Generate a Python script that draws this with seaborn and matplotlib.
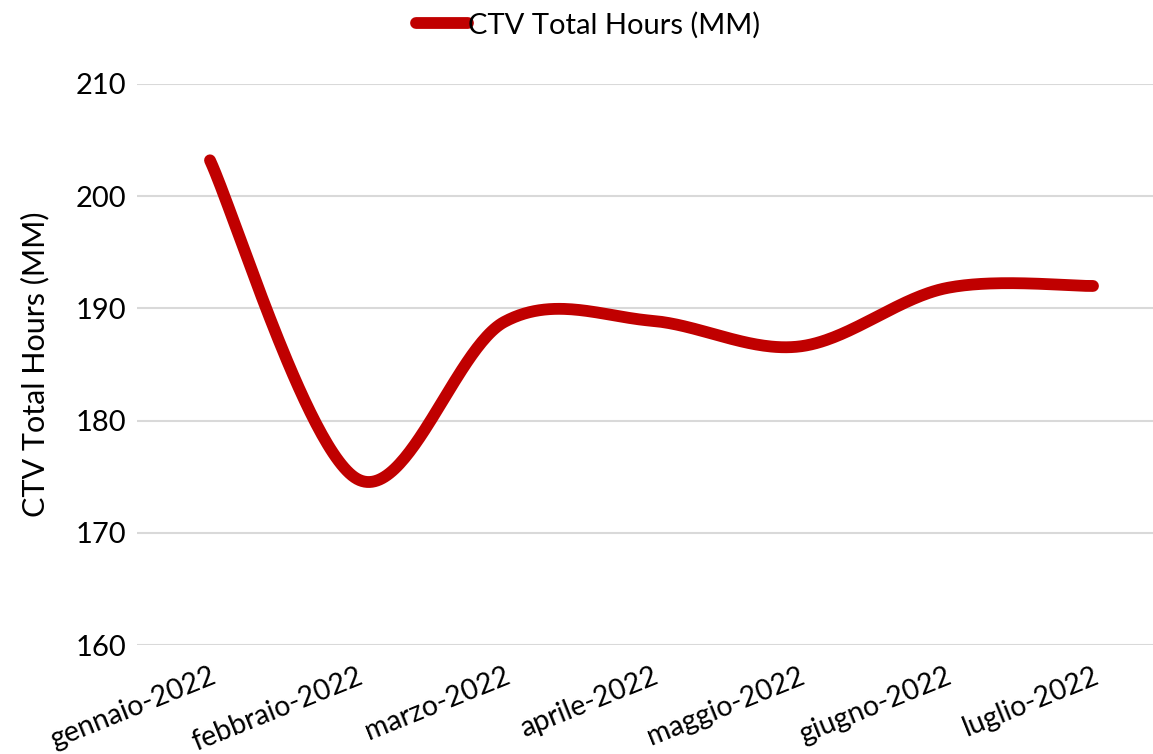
import numpy as np
import pandas as pd
import matplotlib
matplotlib.use("Agg")
import matplotlib.pyplot as plt
import matplotlib.transforms as mtransforms
import seaborn as sns

months = ["gennaio-2022", "febbraio-2022", "marzo-2022", "aprile-2022",
          "maggio-2022", "giugno-2022", "luglio-2022"]
hours = [203.2, 174.8, 188.8, 188.9, 186.6, 191.8, 192.0]
series_name = "CTV Total Hours (MM)"
y_ticks = [160, 170, 180, 190, 200, 210]

sns.set_theme(style="white")
plt.rcParams['font.family'] = ['Lato', 'DejaVu Sans']
plt.rcParams['text.color'] = 'black'
plt.rcParams['xtick.color'] = 'black'
plt.rcParams['ytick.color'] = 'black'
plt.rcParams['axes.labelcolor'] = 'black'

FS = 21
W, H, DPI = 1153, 754, 100
fig = plt.figure(figsize=(W / DPI, H / DPI), dpi=DPI)
left_px, right_px, top_px, bot_px = 137, 1153, 84, 645
ax = fig.add_axes([left_px / W, 1 - bot_px / H, (right_px - left_px) / W, (bot_px - top_px) / H])

# Excel-style smoothed line (Bezier / Catmull-Rom through the data points)
x = np.arange(len(hours), dtype=float)
y = np.asarray(hours, dtype=float)
P = np.column_stack([x, y])
Pext = np.vstack([P[0], P, P[-1]])
xs, ys = [], []
t = np.linspace(0, 1, 60)
for i in range(len(P) - 1):
    p0, p1, p2, p3 = Pext[i], Pext[i + 1], Pext[i + 2], Pext[i + 3]
    c1 = p1 + (p2 - p0) / 6
    c2 = p2 - (p3 - p1) / 6
    b = (np.outer((1 - t) ** 3, p1) + np.outer(3 * (1 - t) ** 2 * t, c1)
         + np.outer(3 * (1 - t) * t ** 2, c2) + np.outer(t ** 3, p2))
    if i > 0:
        b = b[1:]
    xs.extend(b[:, 0]); ys.extend(b[:, 1])
df = pd.DataFrame({"x": xs, "y": ys})

sns.lineplot(data=df, x="x", y="y", sort=False, ax=ax, color="#C00000",
             linewidth=8.5, solid_capstyle="round", label=series_name, legend=False)

ax.set_ylim(160, 210)
ax.set_yticks(y_ticks)
ax.set_yticklabels([str(v) for v in y_ticks], fontsize=FS)
px_per_cat = 147.2
ax.set_xlim(-(210 - left_px) / px_per_cat, 6 + (right_px - 1093) / px_per_cat)
ax.set_xticks(x)
ax.set_xticklabels([])

# rotated category labels (Excel style), ending at each category position
base = mtransforms.blended_transform_factory(ax.transData, ax.transAxes)
offset = mtransforms.ScaledTranslation(0 / DPI, -18 / DPI, fig.dpi_scale_trans)
for xi, m in zip(x, months):
    ax.text(xi, 0, m, transform=base + offset, fontsize=20.5, rotation=22,
            ha="right", va="top", rotation_mode="anchor", clip_on=False)

ax.grid(axis="y", color="#D9D9D9", linewidth=1.5)
ax.grid(axis="x", visible=False)
for s in ax.spines.values():
    s.set_visible(False)
ax.tick_params(axis="both", length=0)
ax.tick_params(axis="y", pad=8)
ax.set_xlabel("")
ax.set_ylabel(series_name, fontsize=22)
ax.yaxis.set_label_coords(-(137 - 49) / (right_px - left_px), 0.5)

handles, labels = ax.get_legend_handles_labels()
fig.legend(handles, labels, loc="center", bbox_to_anchor=(588 / W, 1 - 25 / H),
           frameon=False, fontsize=FS, handlelength=1.8, handletextpad=0.0)

fig.savefig("out.png", dpi=DPI)
